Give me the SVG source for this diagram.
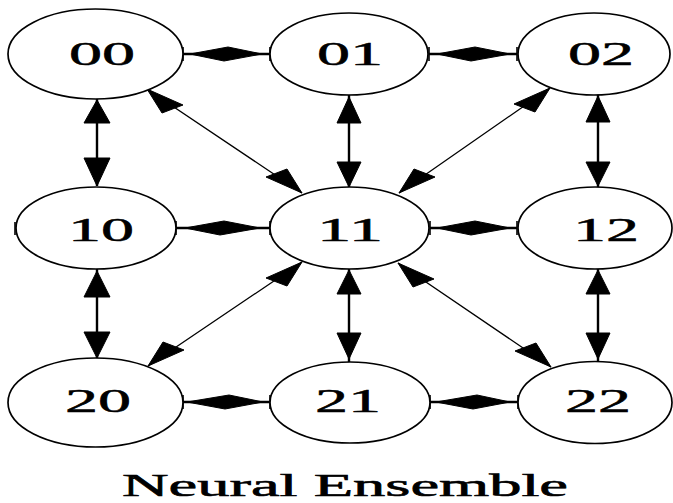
<svg xmlns="http://www.w3.org/2000/svg" width="673" height="503" viewBox="0 0 673 503">
<style>
.n{fill:#fff;stroke:#000;stroke-width:1.7}
.t{font-family:"Liberation Serif","Times New Roman",serif;font-size:33px;fill:#000;stroke:#000;stroke-width:0.5;text-anchor:middle}
.e{stroke:#000;stroke-width:2.4;fill:none}
.d{stroke:#000;stroke-width:1.3;fill:none}
.k{stroke:#000;stroke-width:1.6;fill:none}
.a{fill:#000;stroke:#000;stroke-width:1}
</style>
<rect width="673" height="503" fill="#fff"/>
<g id="connectors">
<path class="e" d="M183,54H270M429,54H517M176,228H270M430,228H517M183,402H270M430,402H518"/>
<path class="k" d="M183,47V61M270,47V61M429,47V61M517,47V61M176,221V235M270,221V235M430,221V235M517,221V235M183,395V409M270,395V409M430,395V409M518,395V409"/>
<polygon class="a" points="190,54 228,47 262,54 224,61"/>
<polygon class="a" points="437,54 475,47 510,54 471,61"/>
<polygon class="a" points="185,228 224,221 260,228 220,235"/>
<polygon class="a" points="437,228 475,221 510,228 471,235"/>
<polygon class="a" points="187,402 229,395 263,402 225,409"/>
<polygon class="a" points="436,402 477,395 510,402 473,409"/>
<path class="e" d="M97,99V186M349,94V188M598,94V187M97,269V358M349,269V362M598,269V362"/>
<polygon class="a" points="97,100 84,123 110,123"/>
<polygon class="a" points="84,158 110,158 97,186"/>
<polygon class="a" points="349,97 337,123 361,123"/>
<polygon class="a" points="337,162 361,162 349,187"/>
<polygon class="a" points="598,96 586,122 610,122"/>
<polygon class="a" points="586,162 610,162 598,186"/>
<polygon class="a" points="97,271 84,297 110,297"/>
<polygon class="a" points="84,332 110,332 97,358"/>
<polygon class="a" points="349,270 337,294 361,294"/>
<polygon class="a" points="337,333 361,333 349,359"/>
<polygon class="a" points="598,270 586,294 610,294"/>
<polygon class="a" points="586,333 610,333 598,359"/>
<path class="d" d="M147,89L302,193M550,88L399,193M148,366L302,262M551,367L398,263"/>
<polygon class="a" points="147,89 183,105 162,113"/>
<polygon class="a" points="302,193 266,177 287,169"/>
<polygon class="a" points="550,88 514,104 535,112"/>
<polygon class="a" points="399,193 435,177 414,169"/>
<polygon class="a" points="148,366 184,350 163,342"/>
<polygon class="a" points="302,262 266,278 287,286"/>
<polygon class="a" points="551,367 515,351 536,343"/>
<polygon class="a" points="398,263 434,279 413,287"/>
</g>
<g id="n00"><ellipse class="n" cx="95.5" cy="54" rx="87.5" ry="45"/><text class="t" x="102" y="65" textLength="66" lengthAdjust="spacingAndGlyphs">00</text></g>
<g id="n01"><ellipse class="n" cx="349" cy="54" rx="79" ry="41"/><text class="t" x="350" y="65" textLength="66" lengthAdjust="spacingAndGlyphs">01</text></g>
<g id="n02"><ellipse class="n" cx="594" cy="54" rx="76" ry="41"/><text class="t" x="601" y="65" textLength="66" lengthAdjust="spacingAndGlyphs">02</text></g>
<g id="n10"><ellipse class="n" cx="96" cy="228" rx="80" ry="41"/><path class="k" d="M15,222V235"/><text class="t" x="101" y="241" textLength="66" lengthAdjust="spacingAndGlyphs">10</text></g>
<g id="n11"><ellipse class="n" cx="349.5" cy="228" rx="79.5" ry="41"/><text class="t" x="350" y="241" textLength="66" lengthAdjust="spacingAndGlyphs">11</text></g>
<g id="n12"><ellipse class="n" cx="595" cy="228" rx="77" ry="41"/><text class="t" x="606" y="241" textLength="66" lengthAdjust="spacingAndGlyphs">12</text></g>
<g id="n20"><ellipse class="n" cx="95.5" cy="402.5" rx="87.5" ry="44.5"/><text class="t" x="98" y="412" textLength="66" lengthAdjust="spacingAndGlyphs">20</text></g>
<g id="n21"><ellipse class="n" cx="350" cy="402.5" rx="80" ry="40.5"/><text class="t" x="348" y="412" textLength="66" lengthAdjust="spacingAndGlyphs">21</text></g>
<g id="n22"><ellipse class="n" cx="595" cy="402.5" rx="77" ry="41"/><text class="t" x="598" y="412" textLength="66" lengthAdjust="spacingAndGlyphs">22</text></g>
<text x="345" y="496" font-family="'Liberation Serif','Times New Roman',serif" font-size="32" stroke="#000" stroke-width="0.6" text-anchor="middle" textLength="446" lengthAdjust="spacingAndGlyphs">Neural Ensemble</text>
</svg>
